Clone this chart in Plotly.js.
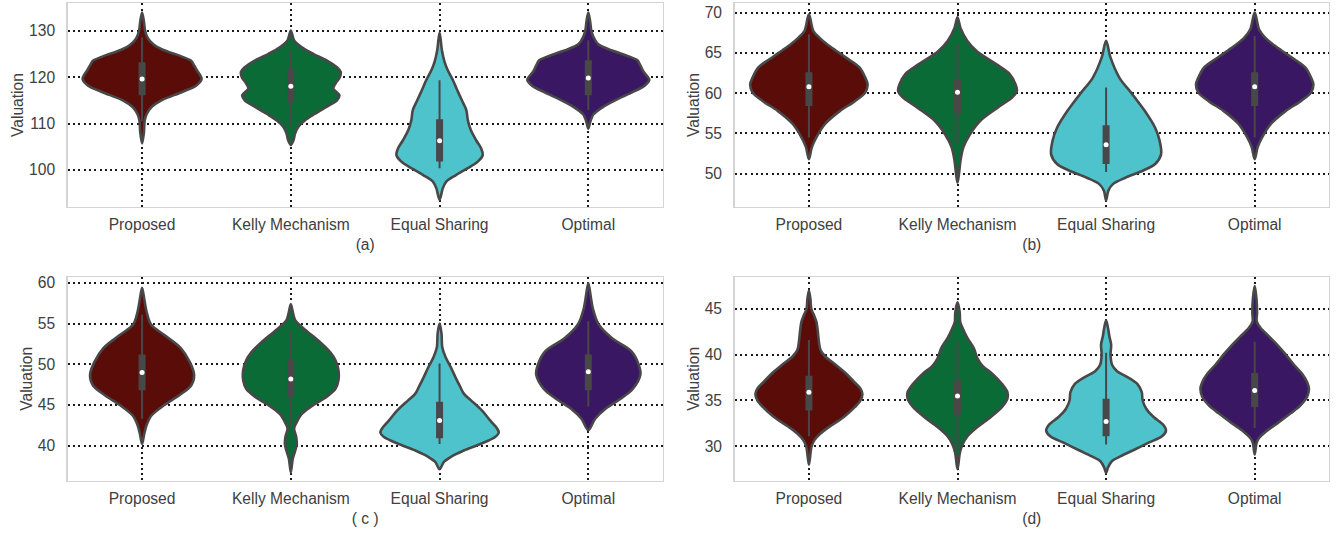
<!DOCTYPE html>
<html>
<head>
<meta charset="utf-8">
<script src="https://cdn.plot.ly/plotly-3.0.1.min.js"></script>
<style>html,body{margin:0;padding:0;background:#fff;}#chart{width:1342px;height:533px;}</style>
</head>
<body>
<div id="chart"></div>
<script>
// ---------- data ----------
const categories = ['Proposed', 'Kelly Mechanism', 'Equal Sharing', 'Optimal'];
const panelLabels = ['(a)', '(b)', '( c )', '(d)'];
const colors = ['#5a0c09', '#0a6b37', '#4fc3cc', '#3a1762'];

// y tick values for each panel
const ticksA = [100, 110, 120, 130];
const ticksB = [50, 55, 60, 65, 70];
const ticksC = [40, 45, 50, 55, 60];
const ticksD = [30, 35, 40, 45];
// y ranges for each panel
const rangeA = [92.1, 135.85];
const rangeB = [45.9, 71.14];
const rangeC = [35.7, 60.74];
const rangeD = [26.26, 48.47];

// violin outlines: valuation levels and half-widths (category units), per violin
const aY = [
  [105.7,108,110.7,112.1,113.6,115,116.8,118.2,119.6,121.4,122.5,123.5,124.5,125.5,126.5,127.5,128.6,130,132,133.9],
  [105.4,106.4,107.9,109.3,110.7,112.1,113.6,115,116.1,117.5,118.6,120,121.1,122.1,123.6,125,126.4,127.9,130],
  [93.6,96.1,97.5,98.9,100.4,101.8,103.2,104.6,106.4,108.6,110.7,112.9,115,117.1,119.3,121.4,123.2,125.7,129.6],
  [108.9,110,111,112,113.6,115,116.8,118.2,119.4,121.2,122.5,123.6,124.6,125.7,127.1,128.6,130,132,133.9]
];
const aW = [
  [0,0.012,0.018,0.032,0.065,0.13,0.27,0.365,0.40,0.37,0.35,0.33,0.26,0.17,0.10,0.06,0.035,0.02,0.012,0],
  [0,0.018,0.029,0.051,0.096,0.163,0.24,0.31,0.327,0.286,0.30,0.33,0.335,0.31,0.24,0.15,0.074,0.022,0],
  [0,0.022,0.045,0.11,0.19,0.257,0.29,0.28,0.246,0.21,0.19,0.18,0.15,0.12,0.09,0.056,0.034,0.016,0],
  [0,0.01,0.02,0.035,0.10,0.18,0.30,0.38,0.41,0.37,0.35,0.33,0.26,0.16,0.065,0.035,0.02,0.012,0]
];
const bY = [
  [51.8,53.3,54.5,56.2,57.8,59,60.1,61.1,61.9,63.2,64.4,65.3,66.1,66.9,67.7,69.8],
  [48.9,50,51.6,53.3,54.9,56.6,58.2,59.5,60.3,61.1,62.4,63.6,65.2,66.5,68.1,69.4],
  [46.7,47.9,48.7,49.5,50.4,51.2,52.4,54.1,55.7,57.8,59.9,61.9,64.4,66.5],
  [51.8,53.3,54.5,56.2,57.8,59,60.1,61.1,61.9,63.2,64.4,65.3,66.1,66.9,67.9,70]
];
const bW = [
  [0,0.02,0.05,0.11,0.21,0.31,0.38,0.395,0.38,0.34,0.25,0.18,0.12,0.07,0.03,0],
  [0,0.01,0.02,0.04,0.084,0.155,0.27,0.37,0.40,0.39,0.35,0.26,0.13,0.065,0.02,0],
  [0,0.015,0.046,0.13,0.25,0.33,0.37,0.36,0.33,0.26,0.175,0.09,0.03,0],
  [0,0.02,0.05,0.11,0.21,0.31,0.38,0.395,0.38,0.34,0.25,0.18,0.12,0.07,0.03,0]
];
const cY = [
  [40.2,41.5,42.5,43.7,45,46.2,47.4,48.7,50.3,52,53.6,54.9,56.5,58,59.4],
  [36.7,38.4,39.4,40.2,41.1,42.1,42.9,43.9,45,46,47,48,49.3,50.5,51.5,52.5,53.6,54.6,55.4,56.2,57.4],
  [37.1,38,38.6,39.4,40.2,41.1,41.6,42.1,43.1,44.3,45.6,46.4,47.2,48.4,49.7,50.9,52.1,53.8,55],
  [41.9,43.3,44.6,45.8,47,48.7,49.9,51.6,53.2,54.9,56.9,58.5,60]
];
const cW = [
  [0,0.015,0.03,0.063,0.15,0.25,0.33,0.35,0.32,0.26,0.15,0.06,0.03,0.015,0],
  [0,0.013,0.03,0.04,0.036,0.022,0.04,0.074,0.152,0.24,0.30,0.32,0.32,0.30,0.264,0.21,0.14,0.074,0.03,0.016,0],
  [0,0.029,0.074,0.163,0.275,0.376,0.398,0.387,0.34,0.286,0.21,0.163,0.14,0.107,0.074,0.04,0.018,0.013,0],
  [0,0.046,0.12,0.22,0.30,0.35,0.34,0.29,0.16,0.07,0.03,0.015,0]
];
const dY = [
  [28,30,30.7,31.4,32.1,33.2,34.3,35,35.7,36.3,37.1,38,38.9,39.8,40.5,41.4,42.5,43.6,44.3,45,46.1,47],
  [27.5,29.3,30.2,31.1,32.1,33.2,34.3,35.2,35.9,36.8,37.9,38.75,39.6,40.7,41.8,42.9,43.6,44.6,45.7],
  [27.1,27.7,28.4,28.9,29.6,30.4,31.1,31.7,32.3,33.2,34.1,35,35.9,36.8,37.5,38.2,38.9,40,41.1,42,42.9,43.75],
  [29.1,30.4,30.9,31.6,32.5,33.6,34.5,35.4,36.3,37,37.9,38.9,40,41.1,42,42.9,43.6,44.6,46.1,47.5]
];
const dW = [
  [0,0.018,0.038,0.078,0.134,0.235,0.31,0.347,0.36,0.347,0.30,0.246,0.18,0.11,0.078,0.067,0.06,0.05,0.034,0.016,0.01,0],
  [0,0.016,0.034,0.067,0.134,0.224,0.30,0.336,0.336,0.30,0.235,0.17,0.134,0.11,0.067,0.034,0.018,0.015,0],
  [0,0.013,0.04,0.096,0.186,0.286,0.376,0.403,0.387,0.32,0.27,0.246,0.24,0.21,0.15,0.074,0.04,0.03,0.034,0.022,0.013,0],
  [0,0.013,0.029,0.074,0.152,0.242,0.31,0.353,0.365,0.353,0.32,0.264,0.21,0.15,0.096,0.04,0.014,0.016,0.012,0]
];

// inner box statistics: median, quartiles, whisker ends
const aMed = [119.6, 118.0, 106.3, 119.8];
const aQ1 = [116.1, 114.6, 101.8, 116.1];
const aQ3 = [123.2, 121.8, 110.9, 123.6];
const aLo = [110.5, 109.6, 100.4, 112.9];
const aHi = [128.5, 125.7, 119.3, 127.9];

const bMed = [60.8, 60.1, 53.6, 60.8];
const bQ1 = [58.4, 57.4, 51.2, 58.4];
const bQ3 = [62.6, 61.7, 56.0, 62.6];
const bLo = [54.5, 53.7, 50.2, 54.5];
const bHi = [67.3, 66.1, 60.7, 67.1];

const cMed = [49.0, 48.2, 43.1, 49.1];
const cQ1 = [46.8, 46.0, 40.9, 46.8];
const cQ3 = [51.2, 50.5, 45.4, 51.2];
const cLo = [43.3, 42.3, 40.2, 44.8];
const cHi = [56.1, 54.1, 50.1, 55.3];

const dMed = [35.9, 35.5, 32.7, 36.1];
const dQ1 = [33.9, 33.5, 31.1, 34.3];
const dQ3 = [37.7, 37.2, 35.2, 38.0];
const dLo = [31.1, 29.6, 30.2, 32.0];
const dHi = [41.6, 41.4, 40.2, 41.4];

// ---------- build figure ----------
const OUT = '#484848';
const TXT = '#404040';
const FONT = 'Liberation Sans, Arial, sans-serif';
const FS = 15.6;

const panels = [
  {Y: aY, W: aW, med: aMed, q1: aQ1, q3: aQ3, lo: aLo, hi: aHi, xa: 'x', ya: 'y'},
  {Y: bY, W: bW, med: bMed, q1: bQ1, q3: bQ3, lo: bLo, hi: bHi, xa: 'x2', ya: 'y2'},
  {Y: cY, W: cW, med: cMed, q1: cQ1, q3: cQ3, lo: cLo, hi: cHi, xa: 'x3', ya: 'y3'},
  {Y: dY, W: dW, med: dMed, q1: dQ1, q3: dQ3, lo: dLo, hi: dHi, xa: 'x4', ya: 'y4'}
];

const traces = [];
panels.forEach(p => {
  for (let k = 0; k < categories.length; k++) {
    const ys = p.Y[k], ws = p.W[k];
    const xs = [], yy = [];
    for (let i = 0; i < ys.length; i++) { xs.push(k - ws[i]); yy.push(ys[i]); }
    for (let i = ys.length - 2; i >= 0; i--) { xs.push(k + ws[i]); yy.push(ys[i]); }
    traces.push({
      type: 'scatter', mode: 'lines', x: xs, y: yy, xaxis: p.xa, yaxis: p.ya,
      fill: 'toself', fillcolor: colors[k],
      line: {color: OUT, width: 2.6, shape: 'spline', smoothing: 0.9},
      hoverinfo: 'skip', showlegend: false
    });
    // whisker
    traces.push({
      type: 'scatter', mode: 'lines', x: [k, k], y: [p.lo[k], p.hi[k]], xaxis: p.xa, yaxis: p.ya,
      line: {color: OUT, width: 2}, hoverinfo: 'skip', showlegend: false
    });
    // box
    traces.push({
      type: 'scatter', mode: 'lines', x: [k, k], y: [p.q1[k], p.q3[k]], xaxis: p.xa, yaxis: p.ya,
      line: {color: OUT, width: 7}, hoverinfo: 'skip', showlegend: false
    });
    // median
    traces.push({
      type: 'scatter', mode: 'markers', x: [k], y: [p.med[k]], xaxis: p.xa, yaxis: p.ya,
      marker: {color: '#ffffff', size: 5, line: {width: 0}}, hoverinfo: 'skip', showlegend: false
    });
  }
});

const xDomL = [0.05045, 0.4938], xDomR = [0.5474, 0.9903];
const yDomT = [0.6122, 0.9936], yDomB = [0.0983, 0.4803];

function xaxis(dom, anchor, label) {
  return {
    domain: dom, anchor: anchor, range: [-0.5, 3.5],
    tickmode: 'array', tickvals: [0, 1, 2, 3], ticktext: categories,
    showgrid: true, gridcolor: '#1a1a1a', gridwidth: 2, griddash: '2px,3.3px',
    zeroline: false, showline: true, linecolor: '#d4d4d4', linewidth: 1.5, mirror: true,
    ticks: '', ticklabelstandoff: 3,
    tickfont: {family: FONT, size: FS, color: TXT},
    title: {text: label, standoff: 7, font: {family: FONT, size: FS, color: TXT}},
    fixedrange: true
  };
}
function yaxis(dom, anchor, range, ticks) {
  return {
    domain: dom, anchor: anchor, range: range,
    tickmode: 'array', tickvals: ticks,
    showgrid: true, gridcolor: '#1a1a1a', gridwidth: 2, griddash: '2px,3.3px',
    zeroline: false, showline: true, linecolor: '#d4d4d4', linewidth: 1.5, mirror: true,
    ticks: '', ticklabelstandoff: 8,
    tickfont: {family: FONT, size: FS, color: TXT},
    title: {text: 'Valuation', standoff: 1, font: {family: FONT, size: FS, color: TXT}},
    fixedrange: true
  };
}

const layout = {
  width: 1342, height: 533,
  margin: {l: 0, r: 0, t: 0, b: 0},
  paper_bgcolor: '#ffffff', plot_bgcolor: '#ffffff',
  showlegend: false,
  xaxis: xaxis(xDomL, 'y', panelLabels[0]),
  yaxis: yaxis(yDomT, 'x', rangeA, ticksA),
  xaxis2: xaxis(xDomR, 'y2', panelLabels[1]),
  yaxis2: yaxis(yDomT, 'x2', rangeB, ticksB),
  xaxis3: xaxis(xDomL, 'y3', panelLabels[2]),
  yaxis3: yaxis(yDomB, 'x3', rangeC, ticksC),
  xaxis4: xaxis(xDomR, 'y4', panelLabels[3]),
  yaxis4: yaxis(yDomB, 'x4', rangeD, ticksD)
};

Plotly.newPlot('chart', traces, layout, {displayModeBar: false, staticPlot: true});
</script>
</body>
</html>
